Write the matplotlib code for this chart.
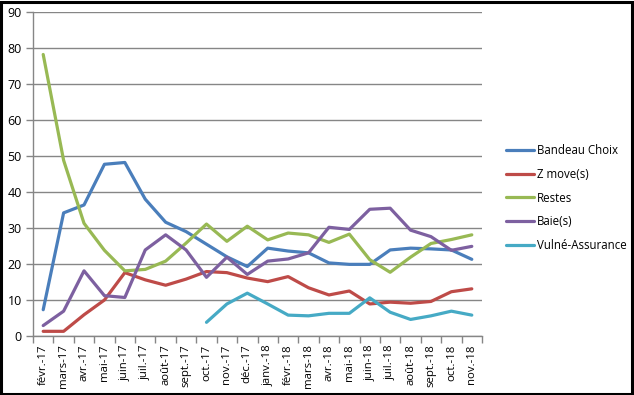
import numpy as np
import matplotlib
matplotlib.use('Agg')
import matplotlib.pyplot as plt
from matplotlib.patches import Rectangle

months = ["févr.-17", "mars-17", "avr.-17", "mai-17", "juin-17", "juil.-17",
          "août-17", "sept.-17", "oct.-17", "nov.-17", "déc.-17", "janv.-18",
          "févr.-18", "mars-18", "avr.-18", "mai-18", "juin-18", "juil.-18",
          "août-18", "sept.-18", "oct.-18", "nov.-18"]

bandeau = [7.3, 34.2, 36.4, 47.7, 48.2, 38.0, 31.6, 29.0, 25.5, 22.0, 19.3, 24.4,
           23.6, 23.1, 20.3, 19.9, 19.9, 23.9, 24.4, 24.2, 23.9, 21.3]
zmove = [1.3, 1.3, 5.9, 10.0, 17.6, 15.6, 14.1, 15.8, 17.9, 17.6, 16.1, 15.1,
         16.5, 13.4, 11.4, 12.5, 8.9, 9.4, 9.1, 9.6, 12.3, 13.1]
restes = [78.2, 48.8, 31.3, 23.8, 18.1, 18.5, 20.8, 25.8, 31.1, 26.3, 30.5, 26.7,
          28.6, 28.1, 26.0, 28.3, 21.2, 17.7, 21.9, 25.7, 26.8, 28.1]
baie = [2.9, 6.9, 18.1, 11.2, 10.7, 23.9, 28.1, 23.9, 16.3, 21.9, 17.1, 20.8,
        21.4, 23.1, 30.2, 29.6, 35.2, 35.5, 29.4, 27.6, 23.8, 24.9]
vulne = [np.nan] * 8 + [3.8, 8.9, 11.9, 8.9, 5.8, 5.6, 6.3, 6.3, 10.6, 6.6,
                        4.6, 5.6, 6.9, 5.8]

series = [
    ("Bandeau Choix", bandeau, "#4A7EBB"),
    ("Z move(s)", zmove, "#BE4B48"),
    ("Restes", restes, "#98B954"),
    ("Baie(s)", baie, "#7D60A0"),
    ("Vulné-Assurance", vulne, "#46AAC5"),
]

plt.rcParams['font.family'] = ['Open Sans', 'DejaVu Sans']

W, H = 634, 395
fig = plt.figure(figsize=(W / 100, H / 100), dpi=100)
ax = fig.add_axes([33 / W, (H - 336) / H, (482 - 33) / W, 324 / H])

x = np.arange(len(months))
for name, vals, color in series:
    ax.plot(x, vals, color=color, linewidth=2.3, label=name,
            solid_joinstyle='round', solid_capstyle='round')

grid_c = '#868686'
ax.set_ylim(0, 90)
ax.set_yticks(range(0, 91, 10))
ax.set_xlim(-0.5, len(months) - 0.5)
ax.yaxis.grid(True, color=grid_c, linewidth=1)
ax.set_axisbelow(True)

# ticks between categories, labels centred on them
ax.set_xticks(np.arange(-0.5, len(months), 1.0))
ax.set_xticklabels([])
ax.set_xticks(x, minor=True)
ax.set_xticklabels(months, minor=True, rotation=90, fontsize=8.2)
ax.tick_params(axis='x', which='major', length=5, color=grid_c, width=1)
ax.tick_params(axis='x', which='minor', length=0, pad=6)
ax.tick_params(axis='y', length=5, color=grid_c, width=1, labelsize=9, pad=3)

for s in ['top', 'right']:
    ax.spines[s].set_visible(False)
for s in ['left', 'bottom']:
    ax.spines[s].set_color(grid_c)
    ax.spines[s].set_linewidth(1)

ax.legend(loc='upper left', bbox_to_anchor=(501 / W, 1 - 139 / H),
          bbox_transform=fig.transFigure, frameon=False, fontsize=8.3,
          handlelength=2.5, handletextpad=0.2, labelspacing=0.95,
          borderaxespad=0)

fig.patches.append(Rectangle((0.002, 0.003), 0.995, 0.993, transform=fig.transFigure,
                             fill=False, edgecolor='black', linewidth=2.2))

fig.savefig('out.png', dpi=100, facecolor='white')
